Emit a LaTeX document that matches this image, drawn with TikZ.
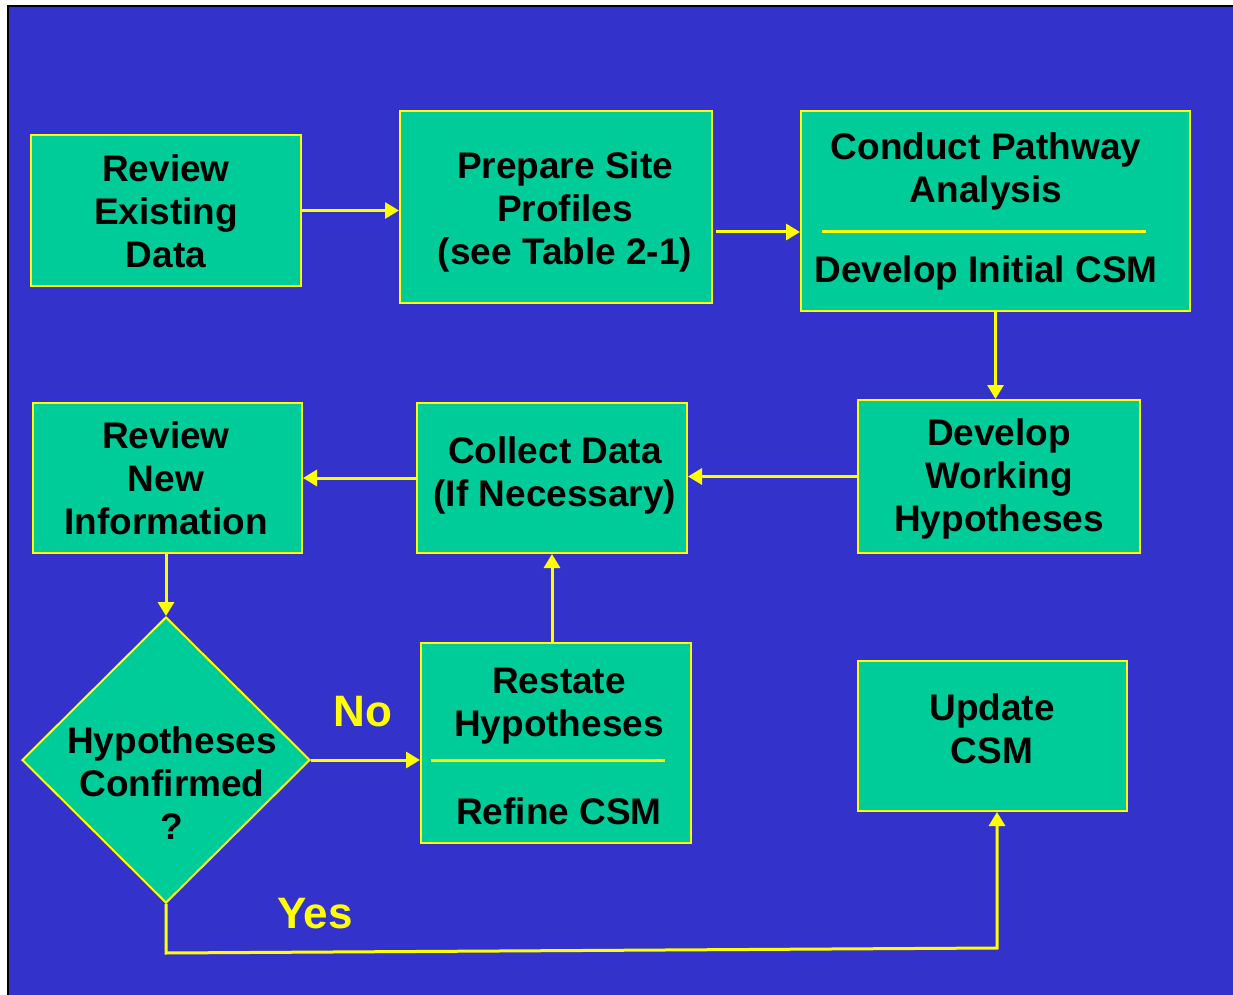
\documentclass[tikz,border=0pt]{standalone}
\usepackage{fontspec}
\setmainfont{Liberation Sans}
\usetikzlibrary{arrows.meta,shapes.geometric}

\definecolor{slideblue}{RGB}{51,51,204}
\definecolor{boxgreen}{RGB}{0,204,153}
\definecolor{flowyellow}{RGB}{255,255,0}

\tikzset{
  box/.style={draw=flowyellow, line width=1pt, fill=boxgreen, inner sep=0pt},
  boxtext/.style={align=center, inner sep=0pt, font=\bfseries\fontsize{18.5}{21.5}\selectfont},
  answer/.style={text=flowyellow, inner sep=0pt, font=\bfseries\fontsize{22}{26}\selectfont},
  flow/.style={draw=flowyellow, line width=1.5pt, -{Triangle[length=7pt,width=8pt]}},
  divider/.style={draw=flowyellow, line width=1.5pt}
}

\begin{document}
\begin{tikzpicture}[x=0.5pt, y=-0.5pt]
  \useasboundingbox (0,0) rectangle (1233,995);

  % 背景
  \fill[white] (0,0) rectangle (1233,995);
  \fill[slideblue] (8,6) rectangle (1233,995);
  \draw[black, line width=1pt] (8,995) -- (8,6) -- (1233,6);

  % 箱
  \node[box, minimum width=135pt, minimum height=75.5pt] (review1) at (166,210.5) {};
  \node[box, minimum width=156pt, minimum height=96pt] (profiles) at (556,207) {};
  \node[box, minimum width=194.5pt, minimum height=100pt] (pathway) at (995.5,211) {};
  \node[box, minimum width=141pt, minimum height=76.5pt] (working) at (999,476.5) {};
  \node[box, minimum width=135pt, minimum height=75pt] (collect) at (552,478) {};
  \node[box, minimum width=134.5pt, minimum height=75pt] (review2) at (167.5,478) {};
  \node[box, diamond, aspect=1, minimum width=144pt, minimum height=143pt] (confirm) at (166,760) {};
  \node[box, minimum width=135pt, minimum height=100pt] (restate) at (556,743) {};
  \node[box, minimum width=134.5pt, minimum height=75pt] (update) at (992.5,736) {};

  % 区切り線
  \draw[divider] (822,232) -- (1146,232);
  \draw[divider] (431,760) -- (665,760);

  % 文字
  \node[boxtext] (t-review1) at (166,211) {Review\\Existing\\Data};
  \node[boxtext] (t-profiles) at (565,212) {Prepare Site\\Profiles\\(see Table 2-1)};
  \node[boxtext] (t-pathway) at (986,171) {Conduct Pathway\\Analysis};
  \node[boxtext] (t-initial) at (986,273) {Develop Initial CSM};
  \node[boxtext] (t-working) at (999,479) {Develop\\Working\\Hypotheses};
  \node[boxtext] (t-collect) at (555,475) {Collect Data\\(If Necessary)};
  \node[boxtext] (t-review2) at (166,478) {Review\\New\\Information};
  \node[boxtext] (t-confirm) at (172,783) {Hypotheses\\Confirmed\\?};
  \node[boxtext] (t-restate) at (559,706) {Restate\\Hypotheses};
  \node[boxtext] (t-refine) at (559,811) {Refine CSM};
  \node[boxtext] (t-update) at (992,729) {Update\\CSM};
  \node[answer] (no) at (363,712) {No};
  \node[answer] (yes) at (315,914) {Yes};

  % 矢印
  \coordinate (p-start) at (716,232);
  \coordinate (yes-a) at (166,953);
  \coordinate (yes-b) at (997,948);
  \draw[flow] (review1.east) -- (review1.east -| profiles.west);
  \draw[flow] (p-start) -- (p-start -| pathway.west);
  \draw[flow] (pathway.south) -- (pathway.south |- working.north);
  \draw[flow] (working.west) -- (working.west -| collect.east);
  \draw[flow] (collect.west) -- (collect.west -| review2.east);
  \draw[flow] (review2.south -| confirm.north) -- (confirm.north);
  \draw[flow] (confirm.east) -- (confirm.east -| restate.west);
  \draw[flow] (restate.north -| collect.south) -- (collect.south);
  \draw[flow] (confirm.south) -- (yes-a) -- (yes-b) -- (yes-b |- update.south);
\end{tikzpicture}
\end{document}
